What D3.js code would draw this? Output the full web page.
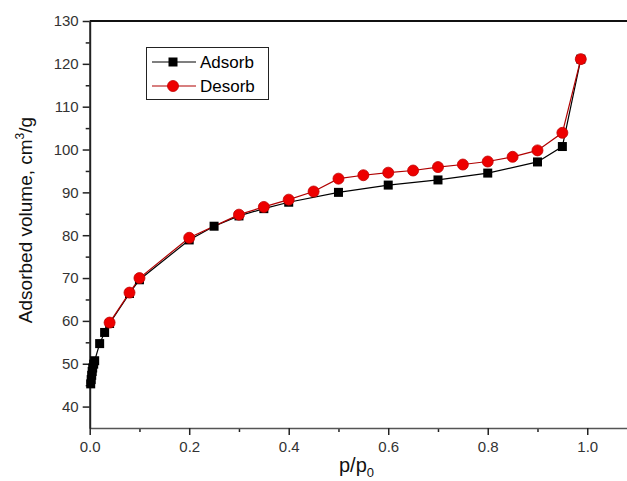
<!DOCTYPE html>
<meta charset="utf-8">
<script src="https://cdn.jsdelivr.net/npm/d3@7"></script>
<style>
body { margin: 0; background: white; }
text { font-family: "Liberation Sans", Arial, sans-serif; }
.tick text { fill: #333; font-size: 15px; }
</style>
<body>
<svg id="chart"></svg>
<script>
'use strict'

// adsorption branch (black squares)
const adsP = [0.002, 0.003, 0.004, 0.005, 0.006, 0.008, 0.01, 0.02, 0.03, 0.04, 0.08, 0.1, 0.2, 0.25, 0.3, 0.35, 0.4, 0.5, 0.6, 0.7, 0.8, 0.9, 0.95, 0.987]
const adsV = [45.3, 46.3, 47.3, 48.2, 49.0, 49.9, 50.7, 54.7, 57.3, 59.4, 66.4, 69.6, 78.9, 82.1, 84.5, 86.2, 87.7, 90.0, 91.7, 92.9, 94.5, 97.1, 100.7, 121.1]
// desorption branch (red circles)
const desP = [0.987, 0.95, 0.9, 0.85, 0.8, 0.75, 0.7, 0.65, 0.6, 0.55, 0.5, 0.45, 0.4, 0.35, 0.3, 0.2, 0.1, 0.08, 0.04]
const desV = [121.1, 103.9, 99.8, 98.3, 97.2, 96.5, 95.9, 95.1, 94.6, 94.0, 93.2, 90.2, 88.3, 86.6, 84.8, 79.4, 70.0, 66.6, 59.6]

const xTicks = [0, 0.2, 0.4, 0.6, 0.8, 1.0]
const yTicks = [40, 50, 60, 70, 80, 90, 100, 110, 120, 130]

const width = 627, height = 481

const svg = d3.select("#chart")
  .attr("width", width)
  .attr("height", height)

const x = d3.scaleLinear().domain([0, 1.1]).range([89.7, 637])
const y = d3.scaleLinear().domain([35, 130]).range([428, 21])

// top frame line
svg.append("line")
  .attr("x1", x(0)).attr("x2", width)
  .attr("y1", y(130)).attr("y2", y(130))
  .attr("stroke", "#111").attr("stroke-width", 2)

// minor ticks
const xMinor = d3.range(0.1, 1.05, 0.2)
svg.append("g")
  .attr("transform", `translate(0,${y(35)})`)
  .call(d3.axisBottom(x).tickValues(xMinor).tickSize(4).tickFormat(""))
  .call(g => g.select(".domain").remove())
  .selectAll("line").attr("stroke", "#222").attr("stroke-width", 1.5)

const yMinor = d3.range(45, 130, 10)
svg.append("g")
  .attr("transform", `translate(${x(0)},0)`)
  .call(d3.axisLeft(y).tickValues(yMinor).tickSize(4).tickFormat(""))
  .call(g => g.select(".domain").remove())
  .selectAll("line").attr("stroke", "#222").attr("stroke-width", 1.5)

// major axes
const xAxis = svg.append("g")
  .attr("transform", `translate(0,${y(35)})`)
  .call(d3.axisBottom(x).tickValues(xTicks).tickSize(7).tickSizeOuter(0).tickPadding(6).tickFormat(d3.format(".1f")))
xAxis.select(".domain").attr("stroke", "#555").attr("stroke-width", 1.5)
xAxis.selectAll(".tick line").attr("stroke", "#222").attr("stroke-width", 1.5)

const yAxis = svg.append("g")
  .attr("transform", `translate(${x(0)},0)`)
  .call(d3.axisLeft(y).tickValues(yTicks).tickSize(7).tickSizeOuter(0).tickPadding(4))
yAxis.select(".domain").attr("stroke", "#222").attr("stroke-width", 2)
yAxis.selectAll(".tick line").attr("stroke", "#222").attr("stroke-width", 1.5)

// lines
const line = d3.line().x(d => x(d[0])).y(d => y(d[1]))
const ads = adsP.map((p, i) => [p, adsV[i]])
const des = desP.map((p, i) => [p, desV[i]])

svg.append("path").datum(ads)
  .attr("d", line).attr("fill", "none").attr("stroke", "#000").attr("stroke-width", 1.2)
svg.append("path").datum(des)
  .attr("d", line).attr("fill", "none").attr("stroke", "#b00000").attr("stroke-width", 1.2)

// markers
svg.append("g").selectAll("rect").data(ads).join("rect")
  .attr("x", d => x(d[0]) - 4.5).attr("y", d => y(d[1]) - 4.5)
  .attr("width", 9).attr("height", 9).attr("fill", "#000")
svg.append("g").selectAll("circle").data(des).join("circle")
  .attr("cx", d => x(d[0])).attr("cy", d => y(d[1])).attr("r", 5.5)
  .attr("fill", "#ee0000").attr("stroke", "#c00000").attr("stroke-width", 0.8)

// legend
const lg = svg.append("g")
lg.append("rect").attr("x", 146.5).attr("y", 47.5).attr("width", 122).attr("height", 52)
  .attr("fill", "white").attr("stroke", "#222").attr("stroke-width", 1)
lg.append("line").attr("x1", 152).attr("x2", 196).attr("y1", 62).attr("y2", 62).attr("stroke", "#000").attr("stroke-width", 1.2)
lg.append("rect").attr("x", 168.5).attr("y", 57.5).attr("width", 9).attr("height", 9).attr("fill", "#000")
lg.append("text").attr("x", 200).attr("y", 68).attr("font-size", 17).text("Adsorb")
lg.append("line").attr("x1", 152).attr("x2", 196).attr("y1", 86).attr("y2", 86).attr("stroke", "#b00000").attr("stroke-width", 1.2)
lg.append("circle").attr("cx", 173).attr("cy", 86).attr("r", 5.5).attr("fill", "#ee0000").attr("stroke", "#c00000").attr("stroke-width", 0.8)
lg.append("text").attr("x", 200).attr("y", 92).attr("font-size", 17).text("Desorb")

// axis titles
const yt = svg.append("text")
  .attr("transform", "translate(32,220) rotate(-90)")
  .attr("text-anchor", "middle").attr("font-size", 19).attr("fill", "#111")
yt.append("tspan").text("Adsorbed volume, cm")
yt.append("tspan").attr("font-size", 12).attr("dy", -8).text("3")
yt.append("tspan").attr("dy", 8).text("/g")

const xt = svg.append("text")
  .attr("x", 339).attr("y", 472).attr("font-size", 20).attr("fill", "#111")
xt.append("tspan").text("p/p")
xt.append("tspan").attr("font-size", 13).attr("dy", 5).text("0")
</script>
</body>
